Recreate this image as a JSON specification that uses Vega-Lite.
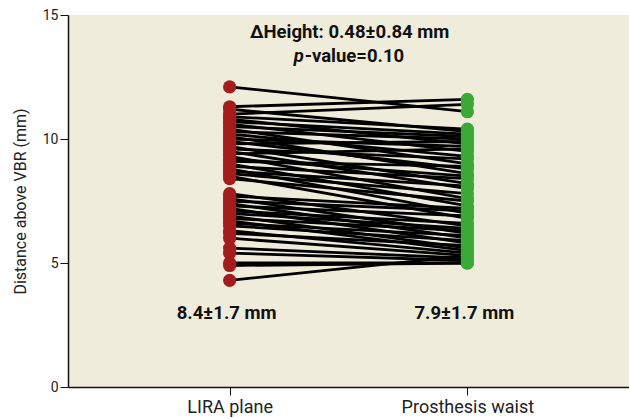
{
  "$schema": "https://vega.github.io/schema/vega-lite/v6.json",
  "autosize": {"type": "none"},
  "padding": {"left": 68, "top": 15, "right": 0, "bottom": 32},
  "width": 561,
  "height": 372,
  "background": "white",
  "config": {
    "view": {"fill": "#F0ECDB", "stroke": null},
    "font": "Roboto, sans-serif"
  },
  "datasets": {
    "pairs": [
      {"id": 1, "site": "LIRA plane", "mm": 12.1}, {"id": 1, "site": "Prosthesis waist", "mm": 11.1},
      {"id": 2, "site": "LIRA plane", "mm": 11.3}, {"id": 2, "site": "Prosthesis waist", "mm": 11.6},
      {"id": 3, "site": "LIRA plane", "mm": 11.0}, {"id": 3, "site": "Prosthesis waist", "mm": 11.4},
      {"id": 4, "site": "LIRA plane", "mm": 11.2}, {"id": 4, "site": "Prosthesis waist", "mm": 10.3},
      {"id": 5, "site": "LIRA plane", "mm": 10.9}, {"id": 5, "site": "Prosthesis waist", "mm": 10.4},
      {"id": 6, "site": "LIRA plane", "mm": 10.8}, {"id": 6, "site": "Prosthesis waist", "mm": 9.8},
      {"id": 7, "site": "LIRA plane", "mm": 10.7}, {"id": 7, "site": "Prosthesis waist", "mm": 10.2},
      {"id": 8, "site": "LIRA plane", "mm": 10.6}, {"id": 8, "site": "Prosthesis waist", "mm": 9.5},
      {"id": 9, "site": "LIRA plane", "mm": 10.5}, {"id": 9, "site": "Prosthesis waist", "mm": 10.1},
      {"id": 10, "site": "LIRA plane", "mm": 10.4}, {"id": 10, "site": "Prosthesis waist", "mm": 9.0},
      {"id": 11, "site": "LIRA plane", "mm": 10.3}, {"id": 11, "site": "Prosthesis waist", "mm": 10.0},
      {"id": 12, "site": "LIRA plane", "mm": 10.2}, {"id": 12, "site": "Prosthesis waist", "mm": 9.3},
      {"id": 13, "site": "LIRA plane", "mm": 10.1}, {"id": 13, "site": "Prosthesis waist", "mm": 8.6},
      {"id": 14, "site": "LIRA plane", "mm": 10.0}, {"id": 14, "site": "Prosthesis waist", "mm": 9.7},
      {"id": 15, "site": "LIRA plane", "mm": 9.9}, {"id": 15, "site": "Prosthesis waist", "mm": 8.8},
      {"id": 16, "site": "LIRA plane", "mm": 9.8}, {"id": 16, "site": "Prosthesis waist", "mm": 9.9},
      {"id": 17, "site": "LIRA plane", "mm": 9.7}, {"id": 17, "site": "Prosthesis waist", "mm": 8.2},
      {"id": 18, "site": "LIRA plane", "mm": 9.6}, {"id": 18, "site": "Prosthesis waist", "mm": 9.2},
      {"id": 19, "site": "LIRA plane", "mm": 9.5}, {"id": 19, "site": "Prosthesis waist", "mm": 8.0},
      {"id": 20, "site": "LIRA plane", "mm": 9.4}, {"id": 20, "site": "Prosthesis waist", "mm": 9.6},
      {"id": 21, "site": "LIRA plane", "mm": 9.3}, {"id": 21, "site": "Prosthesis waist", "mm": 7.6},
      {"id": 22, "site": "LIRA plane", "mm": 9.2}, {"id": 22, "site": "Prosthesis waist", "mm": 8.5},
      {"id": 23, "site": "LIRA plane", "mm": 9.1}, {"id": 23, "site": "Prosthesis waist", "mm": 8.9},
      {"id": 24, "site": "LIRA plane", "mm": 9.0}, {"id": 24, "site": "Prosthesis waist", "mm": 7.3},
      {"id": 25, "site": "LIRA plane", "mm": 8.9}, {"id": 25, "site": "Prosthesis waist", "mm": 8.4},
      {"id": 26, "site": "LIRA plane", "mm": 8.8}, {"id": 26, "site": "Prosthesis waist", "mm": 7.0},
      {"id": 27, "site": "LIRA plane", "mm": 8.7}, {"id": 27, "site": "Prosthesis waist", "mm": 8.1},
      {"id": 28, "site": "LIRA plane", "mm": 8.6}, {"id": 28, "site": "Prosthesis waist", "mm": 7.8},
      {"id": 29, "site": "LIRA plane", "mm": 8.5}, {"id": 29, "site": "Prosthesis waist", "mm": 6.8},
      {"id": 30, "site": "LIRA plane", "mm": 8.4}, {"id": 30, "site": "Prosthesis waist", "mm": 7.5},
      {"id": 31, "site": "LIRA plane", "mm": 7.8}, {"id": 31, "site": "Prosthesis waist", "mm": 6.5},
      {"id": 32, "site": "LIRA plane", "mm": 7.7}, {"id": 32, "site": "Prosthesis waist", "mm": 7.2},
      {"id": 33, "site": "LIRA plane", "mm": 7.6}, {"id": 33, "site": "Prosthesis waist", "mm": 6.2},
      {"id": 34, "site": "LIRA plane", "mm": 7.5}, {"id": 34, "site": "Prosthesis waist", "mm": 7.1},
      {"id": 35, "site": "LIRA plane", "mm": 7.4}, {"id": 35, "site": "Prosthesis waist", "mm": 6.0},
      {"id": 36, "site": "LIRA plane", "mm": 7.3}, {"id": 36, "site": "Prosthesis waist", "mm": 6.9},
      {"id": 37, "site": "LIRA plane", "mm": 7.2}, {"id": 37, "site": "Prosthesis waist", "mm": 5.8},
      {"id": 38, "site": "LIRA plane", "mm": 7.1}, {"id": 38, "site": "Prosthesis waist", "mm": 6.6},
      {"id": 39, "site": "LIRA plane", "mm": 7.0}, {"id": 39, "site": "Prosthesis waist", "mm": 6.4},
      {"id": 40, "site": "LIRA plane", "mm": 6.9}, {"id": 40, "site": "Prosthesis waist", "mm": 5.6},
      {"id": 41, "site": "LIRA plane", "mm": 6.8}, {"id": 41, "site": "Prosthesis waist", "mm": 6.3},
      {"id": 42, "site": "LIRA plane", "mm": 6.7}, {"id": 42, "site": "Prosthesis waist", "mm": 5.5},
      {"id": 43, "site": "LIRA plane", "mm": 6.6}, {"id": 43, "site": "Prosthesis waist", "mm": 6.1},
      {"id": 44, "site": "LIRA plane", "mm": 6.5}, {"id": 44, "site": "Prosthesis waist", "mm": 5.9},
      {"id": 45, "site": "LIRA plane", "mm": 6.3}, {"id": 45, "site": "Prosthesis waist", "mm": 5.4},
      {"id": 46, "site": "LIRA plane", "mm": 6.2}, {"id": 46, "site": "Prosthesis waist", "mm": 5.7},
      {"id": 47, "site": "LIRA plane", "mm": 6.0}, {"id": 47, "site": "Prosthesis waist", "mm": 5.3},
      {"id": 48, "site": "LIRA plane", "mm": 5.6}, {"id": 48, "site": "Prosthesis waist", "mm": 5.2},
      {"id": 49, "site": "LIRA plane", "mm": 5.4}, {"id": 49, "site": "Prosthesis waist", "mm": 5.1},
      {"id": 50, "site": "LIRA plane", "mm": 5.0}, {"id": 50, "site": "Prosthesis waist", "mm": 5.0},
      {"id": 51, "site": "LIRA plane", "mm": 4.9}, {"id": 51, "site": "Prosthesis waist", "mm": 5.0},
      {"id": 52, "site": "LIRA plane", "mm": 4.3}, {"id": 52, "site": "Prosthesis waist", "mm": 5.3}
    ],
    "notes": [
      {"site": "LIRA plane", "mm": 3.0, "label": "8.4±1.7 mm"},
      {"site": "Prosthesis waist", "mm": 3.0, "label": "7.9±1.7 mm"}
    ]
  },
  "encoding": {
    "x": {
      "field": "site", "type": "nominal",
      "sort": ["LIRA plane", "Prosthesis waist"],
      "scale": {"type": "point", "padding": 0.68},
      "axis": {
        "title": null, "labelAngle": 0, "labelFontSize": 18, "labelColor": "#222",
        "domainColor": "#111", "domainWidth": 1.5, "tickColor": "#111", "tickSize": 8,
        "labelPadding": 3
      }
    },
    "y": {
      "field": "mm", "type": "quantitative",
      "scale": {"domain": [0, 15], "nice": false},
      "axis": {
        "values": [0, 5, 10, 15], "title": "Distance above VBR (mm)",
        "titleFontSize": 16, "titleFontWeight": "normal", "titleColor": "#222",
        "titlePadding": 14,
        "labelFontSize": 14, "labelColor": "#222",
        "domainColor": "#111", "domainWidth": 1.5, "tickColor": "#111", "tickSize": 8,
        "grid": false, "labelPadding": 2
      }
    }
  },
  "layer": [
    {
      "data": {"name": "pairs"},
      "mark": {"type": "line", "color": "black", "strokeWidth": 2.8},
      "encoding": {"detail": {"field": "id"}}
    },
    {
      "data": {"name": "pairs"},
      "mark": {"type": "circle", "size": 175, "opacity": 1},
      "encoding": {
        "color": {
          "field": "site", "type": "nominal",
          "scale": {"domain": ["LIRA plane", "Prosthesis waist"], "range": ["#A51C1C", "#3BA935"]},
          "legend": null
        }
      }
    },
    {
      "data": {"name": "notes"},
      "mark": {"type": "text", "fontSize": 18.5, "fontWeight": "bold", "color": "#111", "dx": -3},
      "encoding": {"text": {"field": "label"}}
    },
    {
      "data": {"values": [{"site": "LIRA plane", "mm": 14.3, "label": "ΔHeight: 0.48±0.84 mm"}]},
      "mark": {"type": "text", "fontSize": 18.5, "fontWeight": "bold", "color": "#111", "dx": 120},
      "encoding": {"text": {"field": "label"}}
    },
    {
      "data": {"values": [{"site": "LIRA plane", "mm": 13.35, "label": "p"}]},
      "mark": {"type": "text", "fontSize": 18.5, "fontWeight": "bold", "fontStyle": "italic", "color": "#111", "dx": 64, "align": "left"},
      "encoding": {"text": {"field": "label"}}
    },
    {
      "data": {"values": [{"site": "LIRA plane", "mm": 13.35, "label": "-value=0.10"}]},
      "mark": {"type": "text", "fontSize": 18.5, "fontWeight": "bold", "color": "#111", "dx": 75, "align": "left"},
      "encoding": {"text": {"field": "label"}}
    }
  ]
}
